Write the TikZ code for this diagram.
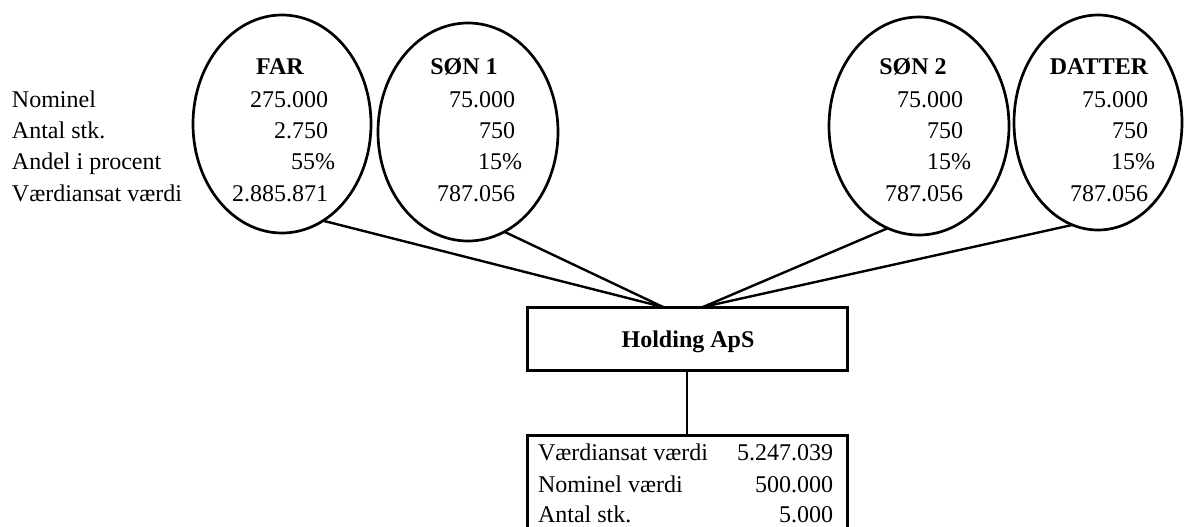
\documentclass[tikz,border=0pt]{standalone}
\usepackage{fontspec}
\setmainfont{Liberation Serif}
\usetikzlibrary{shapes.geometric,calc}
\begin{document}
\begin{tikzpicture}[x=1pt,y=-1pt,
  every node/.style={font=\fontsize{24}{28}\selectfont,inner sep=0pt,outer sep=0pt},
  owner/.style={ellipse,draw,line width=2.7pt},
  company/.style={rectangle,draw,line width=3pt},
  link/.style={line width=2.4pt},
  title/.style={anchor=base,font=\fontsize{24}{28}\selectfont\bfseries},
  lbl/.style={anchor=base west},
  num/.style={anchor=base east}]
\clip (0,0) rectangle (1184,527);

% shareholders
\node[owner,minimum width=178,minimum height=218] (far)    at (282,124)   {};
\node[owner,minimum width=180,minimum height=218] (son1)   at (468,132)   {};
\node[owner,minimum width=180,minimum height=218] (son2)   at (919,126)   {};
\node[owner,minimum width=168,minimum height=215] (datter) at (1098,122.5) {};

% row captions
\node[lbl] (capnom)   at (12,107) {Nominel};
\node[lbl] (capantal) at (12,138) {Antal stk.};
\node[lbl] (capandel) at (12,169) {Andel i procent};
\node[lbl] (capvaerd) at (12,201) {Værdiansat værdi};

% FAR
\node[title] (tfar) at (280,75) {FAR};
\node[num] (far1) at (328,107) {275.000};
\node[num] (far2) at (328,138) {2.750};
\node[num] (far3) at (335,169) {55\%};
\node[num] (far4) at (328,201) {2.885.871};

% SØN 1
\node[title] (tson1) at (464,75) {SØN 1};
\node[num] (son1a) at (515,107) {75.000};
\node[num] (son1b) at (515,138) {750};
\node[num] (son1c) at (522,169) {15\%};
\node[num] (son1d) at (515,201) {787.056};

% SØN 2
\node[title] (tson2) at (913,75) {SØN 2};
\node[num] (son2a) at (963,107) {75.000};
\node[num] (son2b) at (963,138) {750};
\node[num] (son2c) at (971,169) {15\%};
\node[num] (son2d) at (963,201) {787.056};

% DATTER
\node[title] (tdatter) at (1099,75) {DATTER};
\node[num] (dat1) at (1148,107) {75.000};
\node[num] (dat2) at (1148,138) {750};
\node[num] (dat3) at (1155,169) {15\%};
\node[num] (dat4) at (1148,201) {787.056};

% holding company
\node[company,minimum width=320,minimum height=63] (hold) at (687,338.5) {};
\node[title] (holdtxt) at (688,347) {Holding ApS};
\coordinate (inL) at ($(hold.north)+(-24,0)$);
\coordinate (inR) at ($(hold.north)+(16,0)$);

% ownership lines
\draw[link] (far.-67.5)    -- (inL);
\draw[link] (son1.-70)     -- (inL);
\draw[link] (son2.-107.4)  -- (inR);
\draw[link] (datter.-104)  -- (inR);

% value box
\node[company,minimum width=320,minimum height=130,anchor=north] (val) at (687,435) {};
\draw[link] (hold.south) -- (val.north);
\node[lbl] (vcap1) at (538,460) {Værdiansat værdi};
\node[lbl] (vcap2) at (538,492) {Nominel værdi};
\node[lbl] (vcap3) at (538,522) {Antal stk.};
\node[num] (vnum1) at (833,460) {5.247.039};
\node[num] (vnum2) at (833,492) {500.000};
\node[num] (vnum3) at (833,522) {5.000};
\end{tikzpicture}
\end{document}
